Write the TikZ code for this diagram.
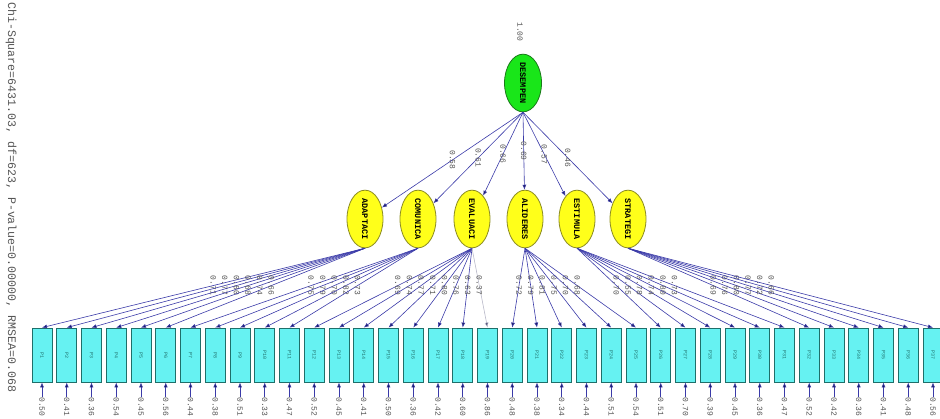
\documentclass[tikz,border=0pt]{standalone}
\usepackage{graphicx}
\usepackage{fontspec}
\setmonofont{Liberation Mono}
\usetikzlibrary{arrows.meta,shapes.geometric}
\definecolor{boxfill}{HTML}{66F2F2}
\definecolor{boxdraw}{HTML}{1F6F6A}
\definecolor{ellfill}{HTML}{FFFF1A}
\definecolor{elldraw}{HTML}{8A8A20}
\definecolor{topfill}{HTML}{19E619}
\definecolor{topdraw}{HTML}{1A7A1A}
\definecolor{pathc}{HTML}{3A3AA8}
\definecolor{faintc}{HTML}{B8B8C8}
\definecolor{txtc}{HTML}{555555}
\definecolor{headc}{HTML}{1A1A50}
\tikzset{
 obsbox/.style={draw=boxdraw, fill=boxfill, line width=0.8pt, minimum width=20pt, minimum height=54pt, inner sep=0pt, font=\ttfamily\fontsize{5}{5}\selectfont, text=boxdraw},
 latent/.style={ellipse, draw=elldraw, fill=ellfill, line width=0.8pt, minimum width=36pt, minimum height=55pt, inner sep=0pt, font=\ttfamily\bfseries\fontsize{8.5}{8.5}\selectfont},
 toplat/.style={latent, draw=topdraw, fill=topfill, minimum width=37pt, minimum height=53pt},
 pathln/.style={draw=pathc, line width=0.6pt, -{Latex[length=5pt,width=4pt,fill=headc]}},
 val/.style={font=\ttfamily\fontsize{8}{8}\selectfont, text=txtc, inner sep=0pt},
}
\begin{document}
\begin{tikzpicture}[x=1pt,y=-1pt]
\useasboundingbox (0,0) rectangle (940,418);
% fit statistics
\node[font=\ttfamily\fontsize{11.6}{11.6}\selectfont, text=txtc, inner sep=0pt, anchor=north] (fit) at (11,2) {\rotatebox{-90}{Chi-Square=6431.03, df=623, P-value=0.00000, RMSEA=0.068}};
% second-order factor
\node[toplat] (T) at (523,83) {\rotatebox{-90}{DESEMPEN}};
\node[val, anchor=north] (tv) at (520,22) {\rotatebox{-90}{1.00}};
% first-order factors
\node[latent] (F1) at (365,219) {\rotatebox{-90}{ADAPTACI}};
\node[latent] (F2) at (418,219) {\rotatebox{-90}{COMUNICA}};
\node[latent] (F3) at (472,219) {\rotatebox{-90}{EVALUACI}};
\node[latent] (F4) at (525,219) {\rotatebox{-90}{ALIDERES}};
\node[latent] (F5) at (577,219) {\rotatebox{-90}{ESTIMULA}};
\node[latent] (F6) at (628,219) {\rotatebox{-90}{STRATEGI}};
\foreach \f/\v in {1/0.58,2/0.61,3/0.66,4/0.69,5/0.57,6/0.46}{
  \draw[pathln] (T.south) -- (F\f) node[val,pos=0.5]{\rotatebox{-90}{\v}};
}
% observed variables
\foreach \i/\f/\l/\e/\c in {
 0/1/0.71/0.50/pathc, 1/1/0.77/0.41/pathc, 2/1/0.80/0.36/pathc, 3/1/0.68/0.54/pathc, 4/1/0.74/0.45/pathc, 5/1/0.66/0.56/pathc,
 6/2/0.75/0.44/pathc, 7/2/0.79/0.38/pathc, 8/2/0.70/0.51/pathc, 9/2/0.82/0.33/pathc, 10/2/0.73/0.47/pathc,
 11/3/0.69/0.52/pathc, 12/3/0.74/0.45/pathc, 13/3/0.77/0.41/pathc, 14/3/0.71/0.50/pathc, 15/3/0.80/0.36/pathc, 16/3/0.76/0.42/pathc, 17/3/0.63/0.60/pathc, 18/3/0.37/0.86/faintc,
 19/4/0.72/0.48/pathc, 20/4/0.79/0.38/pathc, 21/4/0.81/0.34/pathc, 22/4/0.75/0.44/pathc, 23/4/0.70/0.51/pathc, 24/4/0.68/0.54/pathc,
 25/5/0.70/0.51/pathc, 26/5/0.55/0.70/pathc, 27/5/0.78/0.39/pathc, 28/5/0.74/0.45/pathc, 29/5/0.80/0.36/pathc, 30/5/0.73/0.47/pathc,
 31/6/0.69/0.52/pathc, 32/6/0.76/0.42/pathc, 33/6/0.80/0.36/pathc, 34/6/0.77/0.41/pathc, 35/6/0.72/0.48/pathc, 36/6/0.66/0.56/pathc}{
  \pgfmathtruncatemacro\n{\i+1}
  \node[obsbox] (B\i) at ({42+24.75*\i},355) {\rotatebox{-90}{P\n}};
  \draw[pathln, draw=\c] (F\f.south) -- (B\i.north) node[val,pos=0.47]{\rotatebox{-90}{\l}};
  \node[val, anchor=north] (E\i) at ({42+24.75*\i},397) {\rotatebox{-90}{\e}};
  \draw[pathln] (E\i.north) -- (B\i.south);
}
\end{tikzpicture}
\end{document}
